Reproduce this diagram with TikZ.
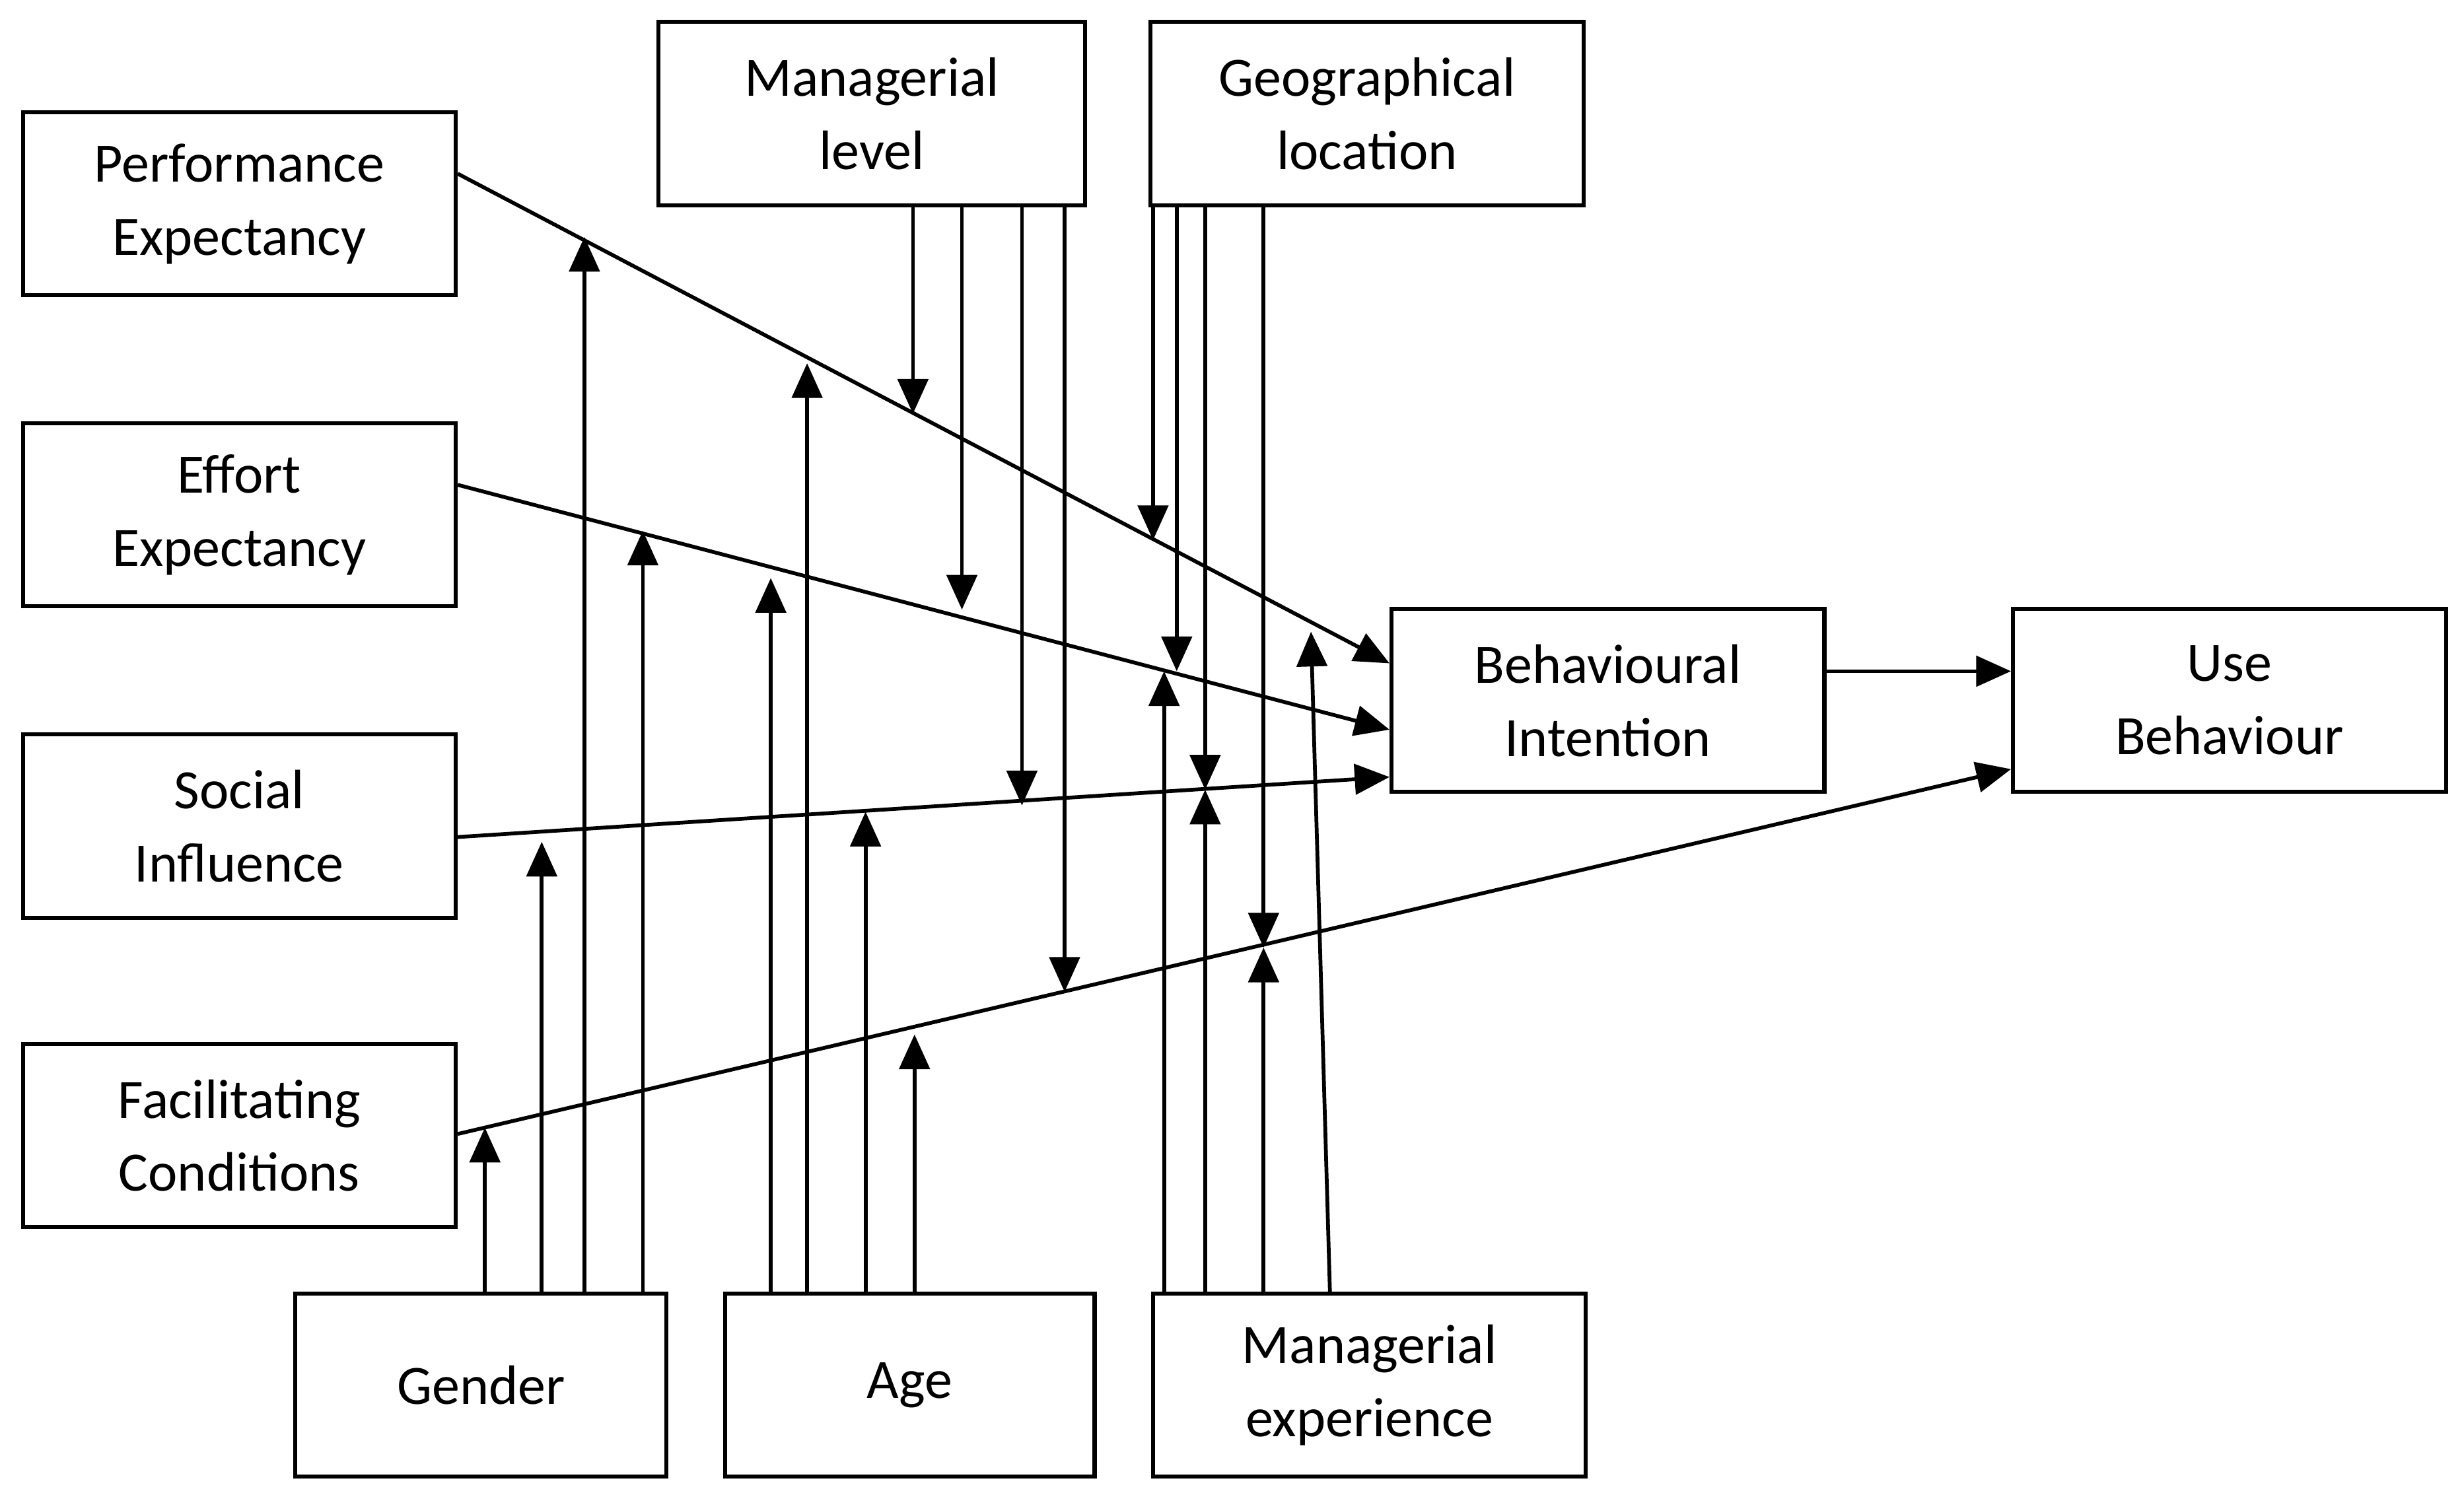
\documentclass[tikz,border=0pt]{standalone}
\usepackage{fontspec}
\setmainfont{Carlito}
\usetikzlibrary{arrows.meta}
\begin{document}
\begin{tikzpicture}[x=0.025cm,y=-0.025cm,
  box/.style={draw,line width=1.8pt,minimum width=6.85cm,minimum height=2.9cm,align=center,inner sep=0pt,font=\fontsize{25}{33}\selectfont},
  ar/.style={line width=1.7pt,-{Triangle[width=0.48cm,length=0.55cm]}},
  ln/.style={line width=1.7pt}]
\useasboundingbox (0,0) rectangle (1560,947.5);
\node[box] (pe) at (151.5,129) {Performance\\Expectancy};
\node[box] (ee) at (151.5,326) {Effort\\Expectancy};
\node[box] (si) at (151.5,523) {Social\\Influence};
\node[box] (fc) at (151.5,719) {Facilitating\\Conditions};
\node[box,minimum width=6.75cm] (ml) at (552,72) {Managerial\\level};
\node[box] (gl) at (865.5,72) {Geographical\\location};
\node[box] (bi) at (1018,443.5) {Behavioural\\Intention};
\node[box] (ub) at (1411.5,443.5) {Use\\Behaviour};
\node[box,minimum width=5.875cm] (ge) at (304.5,877) {Gender};
\node[box,minimum width=5.85cm] (ag) at (576,877) {Age};
\node[box] (me) at (867,877) {Managerial\\experience};
% main lines
\draw[ar] (pe.east |- 0,110) -- (bi.west |- 0,420);
\draw[ar] (ee.east |- 0,307) -- (bi.west |- 0,462);
\draw[ar] (si.east |- 0,530) -- (bi.west |- 0,492);
\draw[ar] (fc.east |- 0,718) -- (ub.west |- 0,487);
\draw[ar] (bi.east |- 0,425) -- (ub.west |- 0,425);
% gender
\foreach \x/\y in {307/714,343/533,370/150,407/336}{\draw[ar] (ge.north -| \x,0) -- (\x,\y);}
% age
\foreach \x/\y in {488/366,511/230,548/514,579/655}{\draw[ar] (ag.north -| \x,0) -- (\x,\y);}
% managerial experience
\foreach \x/\y in {737/425,763/500,800/600}{\draw[ar] (me.north -| \x,0) -- (\x,\y);}
\coordinate (mx) at (842,818);
\draw[ar] (mx) -- (830,400);
% managerial level
\foreach \x/\y in {578/262,609/386,647/510,674/628}{\draw[ar] (ml.south -| \x,0) -- (\x,\y);}
% geographical location
\foreach \x/\y in {730/342,745/425,763/500,800/600}{\draw[ar] (gl.south -| \x,0) -- (\x,\y);}
\end{tikzpicture}
\end{document}
